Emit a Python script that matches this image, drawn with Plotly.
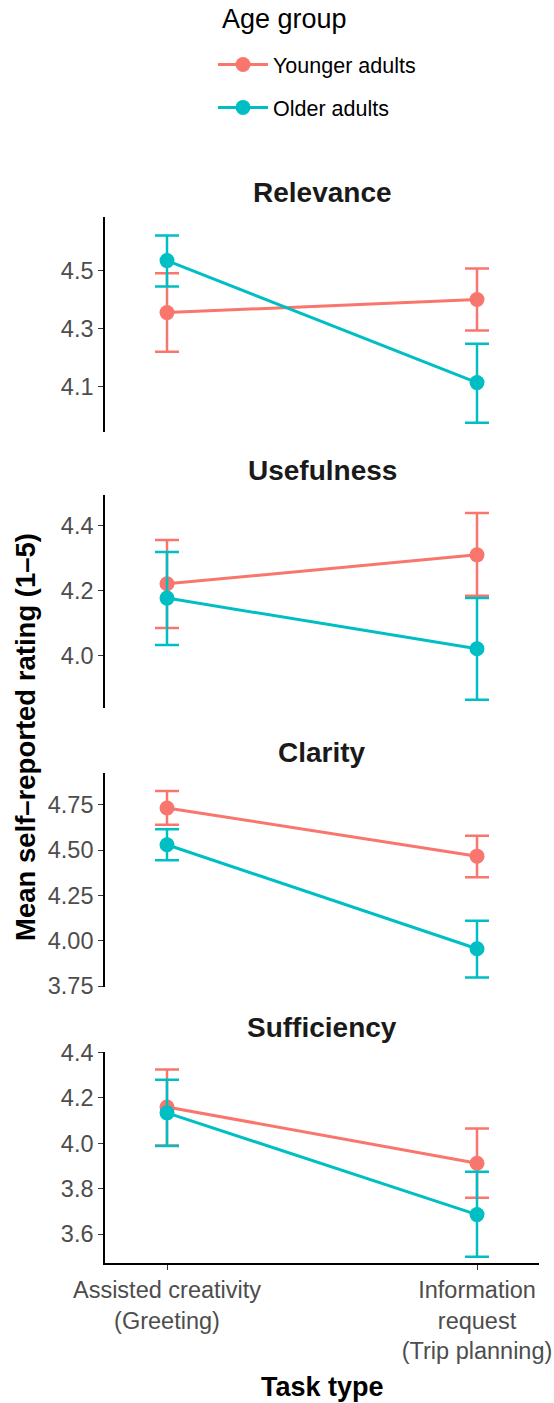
import plotly.graph_objects as go

# ---------------- data ----------------
tasks = ["Assisted creativity<br>(Greeting)", "Information<br>request<br>(Trip planning)"]
panels = ["Relevance", "Usefulness", "Clarity", "Sufficiency"]
groups = ["Younger adults", "Older adults"]

# means, lower CI, upper CI per panel (order: tasks)
young_mean = {"Relevance": [4.355, 4.400], "Usefulness": [4.222, 4.311],
              "Clarity": [4.733, 4.467], "Sufficiency": [4.160, 3.912]}
young_lo = {"Relevance": [4.220, 4.293], "Usefulness": [4.086, 4.185],
            "Clarity": [4.640, 4.350], "Sufficiency": [3.990, 3.760]}
young_hi = {"Relevance": [4.490, 4.507], "Usefulness": [4.357, 4.440],
            "Clarity": [4.827, 4.580], "Sufficiency": [4.325, 4.065]}

old_mean = {"Relevance": [4.534, 4.114], "Usefulness": [4.178, 4.022],
            "Clarity": [4.530, 3.956], "Sufficiency": [4.134, 3.686]}
old_lo = {"Relevance": [4.445, 3.976], "Usefulness": [4.034, 3.865],
          "Clarity": [4.445, 3.797], "Sufficiency": [3.988, 3.500]}
old_hi = {"Relevance": [4.620, 4.248], "Usefulness": [4.320, 4.178],
          "Clarity": [4.615, 4.110], "Sufficiency": [4.280, 3.875]}

y_ranges = {"Relevance": [3.944, 4.684], "Usefulness": [3.84, 4.495],
            "Clarity": [3.745, 4.926], "Sufficiency": [3.473, 4.402]}
y_ticks = {"Relevance": [4.1, 4.3, 4.5], "Usefulness": [4.0, 4.2, 4.4],
           "Clarity": [3.75, 4.0, 4.25, 4.5, 4.75], "Sufficiency": [3.6, 3.8, 4.0, 4.2, 4.4]}
y_fmt = {"Relevance": ".1f", "Usefulness": ".1f", "Clarity": ".2f", "Sufficiency": ".1f"}

colors = {"Younger adults": "#F8766D", "Older adults": "#00BFC4"}

# ---------------- layout geometry ----------------
W, H = 554, 1403
ML, MR, MT, MB = 105, 15, 217, 140
plot_h = H - MT - MB


def py(pix):
    return (H - MB - pix) / plot_h


def px(pix):
    return (pix - ML) / (W - ML - MR)


domains = [(432, 217), (708, 495), (987, 773), (1263, 1052)]
title_pos = [193, 471, 752, 1027]

FONT = "Liberation Sans, Arial, sans-serif"

fig = go.Figure()
data = {"Younger adults": (young_mean, young_lo, young_hi),
        "Older adults": (old_mean, old_lo, old_hi)}

for i, p in enumerate(panels):
    ax = "" if i == 0 else str(i + 1)
    for g in groups:
        m, lo, hi = data[g]
        mean = m[p]
        plus = [h - v for h, v in zip(hi[p], mean)]
        minus = [v - l for v, l in zip(mean, lo[p])]
        fig.add_trace(go.Scatter(
            x=tasks, y=mean, name=g, mode="lines+markers",
            line=dict(color=colors[g], width=3),
            marker=dict(color=colors[g], size=15),
            error_y=dict(type="data", symmetric=False, array=plus, arrayminus=minus,
                         color=colors[g], thickness=2.5, width=12),
            xaxis="x" + ax, yaxis="y" + ax,
            legendgroup=g, showlegend=(i == 0),
        ))

    bottom = (i == len(panels) - 1)
    d0, d1 = domains[i]
    fig.layout["yaxis" + ax] = dict(
        domain=[py(d0), py(d1)], range=y_ranges[p], tickvals=y_ticks[p],
        tickformat=y_fmt[p], showgrid=False, zeroline=False,
        showline=True, linecolor="black", linewidth=1.6,
        ticks="outside", ticklen=5, tickcolor="#333333", tickwidth=1.2,
        tickfont=dict(family=FONT, size=23.5, color="#4D4D4D"),
        anchor="x" + ax, automargin=False,
    )
    fig.layout["xaxis" + ax] = dict(
        domain=[0, 1], type="category", categoryorder="array", categoryarray=tasks,
        range=[-0.2, 1.2], showgrid=False, zeroline=False,
        showline=bottom, linecolor="black", linewidth=1.6,
        ticks="outside" if bottom else "", ticklen=5, tickcolor="#333333", tickwidth=1.2,
        showticklabels=bottom,
        tickfont=dict(family=FONT, size=23.5, color="#4D4D4D"),
        anchor="y" + ax, automargin=False,
        matches=None if i == 0 else "x",
    )
    fig.add_annotation(text="<b>%s</b>" % p, x=0.5, y=py(title_pos[i]), xref="paper", yref="paper",
                       xanchor="center", yanchor="middle", showarrow=False,
                       font=dict(family=FONT, size=28, color="#1A1A1A"))

fig.add_annotation(text="<b>Mean self\u2013reported rating (1\u20135)</b>", textangle=-90,
                   x=px(25), y=py(737), xref="paper", yref="paper",
                   xanchor="center", yanchor="middle", showarrow=False,
                   font=dict(family=FONT, size=27.5, color="black"))
fig.add_annotation(text="<b>Task type</b>", x=0.5, y=py(1387), xref="paper", yref="paper",
                   xanchor="center", yanchor="middle", showarrow=False,
                   font=dict(family=FONT, size=27, color="black"))
# legend title
fig.add_annotation(text="Age group", x=px(220), y=py(19), xref="paper", yref="paper",
                   xanchor="left", yanchor="middle", showarrow=False,
                   font=dict(family=FONT, size=27, color="black"))

fig.update_layout(
    width=W, height=H,
    margin=dict(l=ML, r=MR, t=MT, b=MB, autoexpand=False),
    paper_bgcolor="white", plot_bgcolor="white",
    legend=dict(
        font=dict(family=FONT, size=21.5, color="black"),
        x=px(213), y=py(44), xanchor="left", yanchor="top",
        orientation="v", tracegroupgap=12, itemwidth=50,
        bgcolor="rgba(0,0,0,0)",
    ),
)

fig.write_html("out.html")
